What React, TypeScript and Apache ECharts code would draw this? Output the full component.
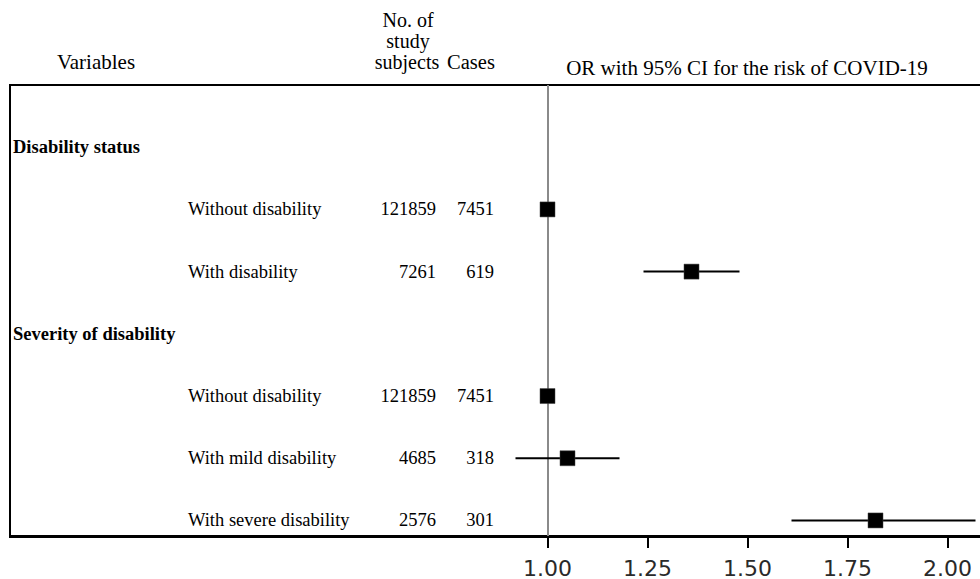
import React, { useEffect, useRef } from "react";
import * as echarts from "echarts";

// ---- data ----
const rowLabels = [
  "Disability status",
  "Without disability",
  "With disability",
  "Severity of disability",
  "Without disability",
  "With mild disability",
  "With severe disability",
];
const isHeading = [true, false, false, true, false, false, false];
const subjects: (number | null)[] = [null, 121859, 7261, null, 121859, 4685, 2576];
const cases: (number | null)[] = [null, 7451, 619, null, 7451, 318, 301];
const orValues: (number | null)[] = [null, 1.0, 1.36, null, 1.0, 1.05, 1.82];
const ciLower: (number | null)[] = [null, 1.0, 1.24, null, 1.0, 0.92, 1.61];
const ciUpper: (number | null)[] = [null, 1.0, 1.48, null, 1.0, 1.18, 2.07];
const xTicks = [1.0, 1.25, 1.5, 1.75, 2.0];
const refValue = 1.0;
const headerVariables = "Variables";
const headerSubjects = ["No. of", "study", "subjects"];
const headerCases = "Cases";
const headerOR = "OR with 95% CI for the risk of COVID-19";

const X_MIN = -0.34375;
const X_MAX = 2.08125;
const SERIF = "Liberation Serif";

export default function App() {
  const ref = useRef<HTMLDivElement>(null);
  useEffect(() => {
    const chart = echarts.init(ref.current!, null, { renderer: "svg" });
    const rowIdx = rowLabels.map((_, i) => i);
    const pointRows = rowIdx.filter((i) => orValues[i] != null);

    const txt = (
      text: string,
      x: number,
      y: number,
      align: string,
      size: number,
      bold = false
    ) => ({
      type: "text",
      x,
      y,
      style: {
        text,
        fontFamily: SERIF,
        fontSize: size,
        fontWeight: bold ? "bold" : "normal",
        fill: "#000",
        align,
        verticalAlign: "middle",
      },
    });

    const option: any = {
      animation: false,
      backgroundColor: "#fff",
      grid: { left: 10, right: 0, top: 85, bottom: 42 },
      xAxis: {
        type: "value",
        min: X_MIN,
        max: X_MAX,
        axisLine: { show: true, onZero: false, lineStyle: { color: "#000", width: 2 } },
        axisTick: {
          show: true,
          customValues: xTicks,
          length: 12,
          lineStyle: { color: "#000", width: 2 },
        },
        axisLabel: {
          customValues: xTicks,
          formatter: (v: number) => v.toFixed(2),
          fontFamily: "DejaVu Sans",
          fontSize: 22,
          color: "#2a2a2a",
          margin: 21,
        },
        splitLine: { show: false },
      },
      yAxis: { type: "value", inverse: true, min: -1, max: 6.25, show: false },
      graphic: [
        {
          type: "rect",
          shape: { x: 10, y: 85, width: 1000, height: 452 },
          silent: true,
          z: 0,
          style: { fill: "none", stroke: "#000", lineWidth: 2 },
        },
      ],
      series: [
        {
          type: "custom",
          name: "header",
          silent: true,
          z: 5,
          renderItem: () => ({
            type: "group",
            children: [
              txt(headerVariables, 96, 62, "center", 21),
              txt(headerSubjects[0], 408, 20, "center", 20),
              txt(headerSubjects[1], 408, 41, "center", 20),
              txt(headerSubjects[2], 407, 62, "center", 20),
              txt(headerCases, 471, 62, "center", 20.5),
              txt(headerOR, 747, 68, "center", 21),
            ],
          }),
          data: [[refValue, 0]],
        },
        {
          type: "custom",
          name: "table",
          silent: true,
          z: 5,
          renderItem: (_params: any, api: any) => {
            const i = api.value(1);
            const y = api.coord([refValue, i])[1];
            const children: any[] = [];
            if (isHeading[i]) {
              children.push(txt(rowLabels[i], 13, y, "left", 18.5, true));
            } else {
              children.push(txt(rowLabels[i], 188, y, "left", 18.5));
              children.push(txt(String(subjects[i]), 436, y, "right", 18.5));
              children.push(txt(String(cases[i]), 494, y, "right", 18.5));
            }
            return { type: "group", children };
          },
          data: rowIdx.map((i) => [refValue, i]),
        },
        {
          type: "custom",
          name: "ci",
          z: 2,
          renderItem: (_params: any, api: any) => {
            const row = api.value(0);
            const lo = api.coord([api.value(1), row]);
            const hi = api.coord([api.value(2), row]);
            return {
              type: "line",
              shape: { x1: lo[0], y1: lo[1], x2: hi[0], y2: hi[1] },
              style: { stroke: "#000", lineWidth: 2 },
            };
          },
          encode: { x: [1, 2], y: 0 },
          data: pointRows.map((i) => [i, ciLower[i], ciUpper[i]]),
          markLine: {
            silent: true,
            z: 1,
            symbol: ["none", "none"],
            label: { show: false },
            lineStyle: { color: "#8a8a8a", width: 2, type: "solid", opacity: 1 },
            data: [{ xAxis: refValue }],
          },
        },
        {
          type: "scatter",
          name: "OR",
          z: 10,
          symbol: "rect",
          symbolSize: 15,
          itemStyle: { color: "#000", opacity: 1, borderColor: "#444", borderWidth: 0.5 },
          data: pointRows.map((i) => [orValues[i], i]),
        },
      ],
    };
    chart.setOption(option);
    return () => chart.dispose();
  }, []);
  return (
    <div
      ref={ref}
      style={{ position: "fixed", left: 0, top: 0, width: 980, height: 579, background: "#fff" }}
    />
  );
}
